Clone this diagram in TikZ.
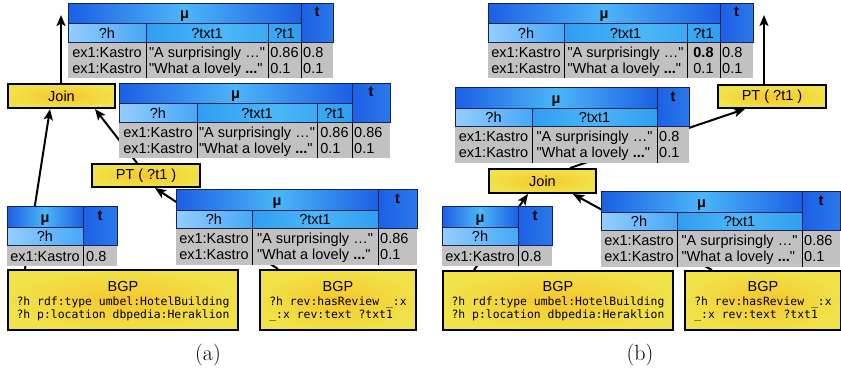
\documentclass[tikz,border=0pt]{standalone}
\usepackage{fontspec}
\newfontfamily\tabfont{Liberation Sans}[Ligatures=TeXOff]
\newfontfamily\bgpcode{DejaVu Sans Mono}
\usetikzlibrary{arrows.meta,calc}

\definecolor{hdrdeep}{RGB}{28,95,228}
\definecolor{hdrglow}{RGB}{75,182,248}
\definecolor{subpale}{RGB}{150,205,255}
\definecolor{submid}{RGB}{70,168,245}
\definecolor{subvar}{RGB}{48,158,240}
\definecolor{cellgray}{RGB}{193,193,193}
\definecolor{hdredge}{RGB}{22,36,85}
\definecolor{opyellow}{RGB}{240,226,72}
\definecolor{opgold}{RGB}{246,198,44}

\tikzset{
  muhead/.style={left color=hdrdeep, right color=hdrdeep, middle color=hdrglow},
  thead/.style={left color=hdrdeep, right color=hdrdeep!70!hdrglow},
  hhead/.style={left color=subpale, right color=submid},
  varhead/.style={left color=subvar, right color=subvar, middle color=hdrglow},
  datafill/.style={fill=cellgray},
  hdrline/.style={draw=hdredge, line width=0.9pt},
  colline/.style={draw=black, line width=0.9pt},
  celltext/.style={inner sep=0pt, anchor=base, font=\tabfont\fontsize{14.5}{16.5}\selectfont},
  headtext/.style={celltext, font=\tabfont\bfseries\fontsize{14.5}{16.5}\selectfont},
  opbox/.style={draw=black, line width=2pt, inner color=opgold, outer color=opyellow,
    inner sep=0pt, anchor=north west, font=\tabfont\fontsize{14.5}{16}\selectfont},
  bgptitle/.style={inner sep=0pt, anchor=base, font=\tabfont\fontsize{14.5}{16}\selectfont},
  bgplines/.style={inner sep=0pt, anchor=base, font=\bgpcode\fontsize{11.4}{13.5}\selectfont},
  flow/.style={line width=2pt, -{Stealth[length=11pt,width=9pt,inset=2.5pt]}},
  caption/.style={inner sep=0pt, font=\fontsize{22}{26}\selectfont}
}

% two stacked lines, baseline at the first one
\newcommand\twolines[2]{\begin{tabular}[t]{@{}l@{}}#1\\#2\end{tabular}}
% column widths: ?h, ?txt1, ?t1, t
\newcommand\setcols[4]{\def\cwh{#1}\def\cwx{#2}\def\cwp{#3}\def\cwt{#4}}

% mapping table with columns ?h, ?txt1, ?t1 and t
\newcommand\tabfour[7]{%
\begin{scope}[shift={(#2,#3)}]
  \pgfmathsetmacro\tcA{\cwh}
  \pgfmathsetmacro\tcB{\cwh+\cwx}
  \pgfmathsetmacro\tcC{\cwh+\cwx+\cwp}
  \pgfmathsetmacro\tcD{\cwh+\cwx+\cwp+\cwt}
  \fill[datafill] (0,39) rectangle (\tcD,75);
  \shade[muhead] (0,0) rectangle (\tcC,20);
  \shade[thead] (\tcC,0) rectangle (\tcD,39);
  \shade[hhead] (0,20) rectangle (\tcA,39);
  \shade[varhead] (\tcA,20) rectangle (\tcC,39);
  \draw[hdrline] (0,0) rectangle (\tcD,39) (0,20) -- (\tcC,20) (\tcC,0) -- (\tcC,39)
    (\tcA,20) -- (\tcA,39) (\tcB,20) -- (\tcB,39);
  \draw[colline] (\tcA,39) -- (\tcA,75) (\tcB,39) -- (\tcB,75) (\tcC,39) -- (\tcC,75);
  \node[headtext] (#1-mu) at (\tcC/2,15) {μ};
  \node[headtext] (#1-t) at ({(\tcC+\tcD)/2},13) {t};
  \node[celltext] (#1-h) at (\tcA/2,35) {?h};
  \node[celltext] (#1-x) at ({(\tcA+\tcB)/2},35) {?txt1};
  \node[celltext] (#1-p) at ({(\tcB+\tcC)/2},35) {?t1};
  \node[celltext] (#1-dh) at (\tcA/2,54) {\twolines{ex1:Kastro}{ex1:Kastro}};
  \node[celltext] (#1-dx) at ({(\tcA+\tcB)/2},54)
    {\twolines{"A surprisingly …"}{"What a lovely \textbf{...}"}};
  \node[celltext] (#1-dp) at ({(\tcB+\tcC)/2},54) {\twolines{#4}{#6}};
  \node[celltext, anchor=base west] (#1-dt) at (\tcC+2,54) {\twolines{#5}{#7}};
\end{scope}}

% mapping table with columns ?h, ?txt1 and t
\newcommand\tabthree[5]{%
\begin{scope}[shift={(#2,#3)}]
  \pgfmathsetmacro\tcA{\cwh}
  \pgfmathsetmacro\tcB{\cwh+\cwx}
  \pgfmathsetmacro\tcD{\cwh+\cwx+\cwt}
  \fill[datafill] (0,39) rectangle (\tcD,76);
  \shade[muhead] (0,0) rectangle (\tcB,21);
  \shade[thead] (\tcB,0) rectangle (\tcD,39);
  \shade[hhead] (0,21) rectangle (\tcA,39);
  \shade[varhead] (\tcA,21) rectangle (\tcB,39);
  \draw[hdrline] (0,0) rectangle (\tcD,39) (0,21) -- (\tcB,21) (\tcB,0) -- (\tcB,39)
    (\tcA,21) -- (\tcA,39);
  \draw[colline] (\tcA,39) -- (\tcA,76) (\tcB,39) -- (\tcB,76);
  \node[headtext] (#1-mu) at (\tcB/2,16) {μ};
  \node[headtext] (#1-t) at ({(\tcB+\tcD)/2},14) {t};
  \node[celltext] (#1-h) at (\tcA/2,35) {?h};
  \node[celltext] (#1-x) at ({(\tcA+\tcB)/2},35) {?txt1};
  \node[celltext] (#1-dh) at (\tcA/2,54) {\twolines{ex1:Kastro}{ex1:Kastro}};
  \node[celltext] (#1-dx) at ({(\tcA+\tcB)/2},54)
    {\twolines{"A surprisingly …"}{"What a lovely \textbf{...}"}};
  \node[celltext, anchor=base west] (#1-dt) at (\tcB+2,54) {\twolines{#4}{#5}};
\end{scope}}

% mapping table with columns ?h and t
\newcommand\tabtwo[4]{%
\begin{scope}[shift={(#2,#3)}]
  \pgfmathsetmacro\tcA{\cwh}
  \pgfmathsetmacro\tcD{\cwh+\cwt}
  \fill[datafill] (0,39) rectangle (\tcD,60);
  \shade[muhead] (0,0) rectangle (\tcA,21);
  \shade[thead] (\tcA,0) rectangle (\tcD,39);
  \shade[hhead] (0,21) rectangle (\tcA,39);
  \draw[hdrline] (0,0) rectangle (\tcD,39) (0,21) -- (\tcA,21) (\tcA,0) -- (\tcA,39);
  \draw[colline] (\tcA,39) -- (\tcA,60);
  \node[headtext] (#1-mu) at (\tcA/2,16) {μ};
  \node[headtext] (#1-t) at ({(\tcA+\tcD)/2},14) {t};
  \node[celltext] (#1-h) at (\tcA/2,35) {?h};
  \node[celltext] (#1-dh) at (\tcA/2,55) {ex1:Kastro};
  \node[celltext, anchor=base west] (#1-dt) at (\tcA+3,55) {#4};
\end{scope}}

\begin{document}
\begin{tikzpicture}[x=1pt,y=-1pt]
\useasboundingbox (0,0) rectangle (841,370);

% ---------- (a): operators and patterns ----------
\node[opbox, minimum width=107, minimum height=24] (joinA) at (7,83) {Join};
\node[opbox, minimum width=108, minimum height=23] (ptA) at (91,163) {PT ( ?t1 )};
\node[opbox, minimum width=230, minimum height=60] (bgpA) at (7,269) {};
\node[opbox, minimum width=156, minimum height=60] (bgpB) at (259,269) {};
\node[bgptitle] (bgpA-title) at ($(bgpA.north)+(0,22)$) {BGP};
\node[bgplines] (bgpA-code) at ($(bgpA.north)+(0,36)$)
  {\twolines{?h rdf:type umbel:HotelBuilding}{?h p:location dbpedia:Heraklion}};
\node[bgptitle] (bgpB-title) at ($(bgpB.north)+(0,22)$) {BGP};
\node[bgplines] (bgpB-code) at ($(bgpB.north)+(0,36)$)
  {\twolines{?h rev:hasReview \_:x}{\_:x rev:text ?txt1}};

% ---------- (b): operators and patterns ----------
\node[opbox, minimum width=107, minimum height=24] (joinB) at (488,168) {Join};
\node[opbox, minimum width=108, minimum height=23] (ptB) at (717,84) {PT ( ?t1 )};
\node[opbox, minimum width=230, minimum height=59] (bgpC) at (442,270) {};
\node[opbox, minimum width=156, minimum height=59] (bgpD) at (684,270) {};
\node[bgptitle] (bgpC-title) at ($(bgpC.north)+(0,21)$) {BGP};
\node[bgplines] (bgpC-code) at ($(bgpC.north)+(0,35)$)
  {\twolines{?h rdf:type umbel:HotelBuilding}{?h p:location dbpedia:Heraklion}};
\node[bgptitle] (bgpD-title) at ($(bgpD.north)+(0,21)$) {BGP};
\node[bgplines] (bgpD-code) at ($(bgpD.north)+(0,35)$)
  {\twolines{?h rev:hasReview \_:x}{\_:x rev:text ?txt1}};

% ---------- data flow (drawn under the tables) ----------
\coordinate (outA) at (61,15);
\coordinate (outB) at (764,15);
\draw[flow] ($(bgpA.north west)+(18,0)$) -- ($(joinA.south west)+(43,0)$);
\draw[flow] ($(ptA.north west)+(46,0)$) -- ($(joinA.south west)+(88,0)$);
\draw[flow] ($(bgpB.north west)+(19,0)$) -- ($(ptA.south west)+(64,0)$);
\draw[flow] ($(joinA.north west)+(54,0)$) -- (outA);

\draw[flow] ($(bgpC.north west)+(32,0)$) -- ($(joinB.south west)+(40,0)$);
\draw[flow] ($(bgpD.north west)+(28,0)$) -- ($(joinB.south west)+(85,0)$);
\draw[flow] ($(joinB.north west)+(82,0)$) -- ($(ptB.south west)+(28,0)$);
\draw[flow] ($(ptB.north west)+(47,0)$) -- (outB);

% ---------- intermediate results ----------
\setcols{78}{122}{33}{32}
\tabfour{resA}{68}{3}{0.86}{0.8}{0.1}{0.1}
\setcols{78}{120}{35}{38}
\tabfour{ptresA}{119}{83}{0.86}{0.86}{0.1}{0.1}
\setcols{76}{0}{0}{34}
\tabtwo{hotelA}{7}{206}{0.8}
\setcols{76}{126}{0}{39}
\tabthree{reviewA}{176}{189}{0.86}{0.1}

\setcols{76}{123}{33}{33}
\tabfour{resB}{488}{3}{\textbf{0.8}}{0.8}{0.1}{0.1}
\setcols{77}{125}{0}{32}
\tabthree{joinresB}{455}{87}{0.8}{0.1}
\setcols{76}{0}{0}{34}
\tabtwo{hotelB}{442}{206}{0.8}
\setcols{76}{125}{0}{38}
\tabthree{reviewB}{601}{191}{0.86}{0.1}

% ---------- sub-captions ----------
\node[caption] (capA) at (208,355) {(a)};
\node[caption] (capB) at (640,355) {(b)};
\end{tikzpicture}
\end{document}
